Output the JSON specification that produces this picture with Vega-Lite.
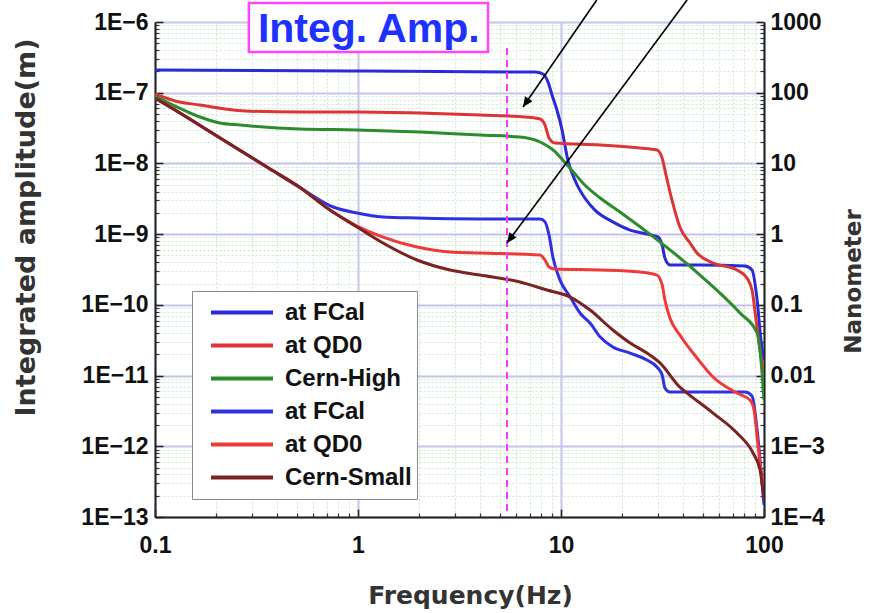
{
  "$schema": "https://vega.github.io/schema/vega-lite/v6.json",
  "width": 609,
  "height": 495,
  "autosize": {"type": "none"},
  "padding": {"left": 155, "top": 22, "right": 110, "bottom": 96},
  "background": "white",
  "config": {"view": {"stroke": null}, "font": "Liberation Sans"},
  "datasets": {
    "curves": [
      {"Series": "at FCal (Cern-High)", "Frequency": 0.1, "Amplitude": 2.09e-7},
      {"Series": "at FCal (Cern-High)", "Frequency": 0.913, "Amplitude": 2.03e-7},
      {"Series": "at FCal (Cern-High)", "Frequency": 7.45, "Amplitude": 1.96e-7},
      {"Series": "at FCal (Cern-High)", "Frequency": 8.15, "Amplitude": 1.84e-7},
      {"Series": "at FCal (Cern-High)", "Frequency": 8.63, "Amplitude": 1.42e-7},
      {"Series": "at FCal (Cern-High)", "Frequency": 9.03, "Amplitude": 9.29e-8},
      {"Series": "at FCal (Cern-High)", "Frequency": 9.55, "Amplitude": 5.69e-8},
      {"Series": "at FCal (Cern-High)", "Frequency": 10.12, "Amplitude": 2.97e-8},
      {"Series": "at FCal (Cern-High)", "Frequency": 10.8, "Amplitude": 1.12e-8},
      {"Series": "at FCal (Cern-High)", "Frequency": 11.7, "Amplitude": 5.83e-9},
      {"Series": "at FCal (Cern-High)", "Frequency": 13.1, "Amplitude": 3.24e-9},
      {"Series": "at FCal (Cern-High)", "Frequency": 14.7, "Amplitude": 2.19e-9},
      {"Series": "at FCal (Cern-High)", "Frequency": 18.0, "Amplitude": 1.49e-9},
      {"Series": "at FCal (Cern-High)", "Frequency": 21.9, "Amplitude": 1.14e-9},
      {"Series": "at FCal (Cern-High)", "Frequency": 26.5, "Amplitude": 1.0e-9},
      {"Series": "at FCal (Cern-High)", "Frequency": 30.1, "Amplitude": 9.1e-10},
      {"Series": "at FCal (Cern-High)", "Frequency": 31.5, "Amplitude": 7.02e-10},
      {"Series": "at FCal (Cern-High)", "Frequency": 32.5, "Amplitude": 4.59e-10},
      {"Series": "at FCal (Cern-High)", "Frequency": 34.4, "Amplitude": 3.66e-10},
      {"Series": "at FCal (Cern-High)", "Frequency": 48.4, "Amplitude": 3.66e-10},
      {"Series": "at FCal (Cern-High)", "Frequency": 80.5, "Amplitude": 3.54e-10},
      {"Series": "at FCal (Cern-High)", "Frequency": 87.3, "Amplitude": 3.11e-10},
      {"Series": "at FCal (Cern-High)", "Frequency": 92.5, "Amplitude": 1.17e-10},
      {"Series": "at FCal (Cern-High)", "Frequency": 96.6, "Amplitude": 3.18e-11},
      {"Series": "at FCal (Cern-High)", "Frequency": 100, "Amplitude": 1.66e-11},

      {"Series": "at QD0 (Cern-High)", "Frequency": 0.1, "Amplitude": 9.59e-8},
      {"Series": "at QD0 (Cern-High)", "Frequency": 0.1256, "Amplitude": 7.64e-8},
      {"Series": "at QD0 (Cern-High)", "Frequency": 0.1667, "Amplitude": 6.7e-8},
      {"Series": "at QD0 (Cern-High)", "Frequency": 0.2213, "Amplitude": 5.89e-8},
      {"Series": "at QD0 (Cern-High)", "Frequency": 0.2775, "Amplitude": 5.51e-8},
      {"Series": "at QD0 (Cern-High)", "Frequency": 0.5176, "Amplitude": 5.33e-8},
      {"Series": "at QD0 (Cern-High)", "Frequency": 0.989, "Amplitude": 5.33e-8},
      {"Series": "at QD0 (Cern-High)", "Frequency": 2.02, "Amplitude": 5.16e-8},
      {"Series": "at QD0 (Cern-High)", "Frequency": 3.99, "Amplitude": 4.84e-8},
      {"Series": "at QD0 (Cern-High)", "Frequency": 6.65, "Amplitude": 4.53e-8},
      {"Series": "at QD0 (Cern-High)", "Frequency": 7.89, "Amplitude": 4.25e-8},
      {"Series": "at QD0 (Cern-High)", "Frequency": 8.34, "Amplitude": 3.49e-8},
      {"Series": "at QD0 (Cern-High)", "Frequency": 8.73, "Amplitude": 2.29e-8},
      {"Series": "at QD0 (Cern-High)", "Frequency": 9.34, "Amplitude": 1.94e-8},
      {"Series": "at QD0 (Cern-High)", "Frequency": 15.6, "Amplitude": 1.82e-8},
      {"Series": "at QD0 (Cern-High)", "Frequency": 24.5, "Amplitude": 1.65e-8},
      {"Series": "at QD0 (Cern-High)", "Frequency": 29.7, "Amplitude": 1.55e-8},
      {"Series": "at QD0 (Cern-High)", "Frequency": 31.5, "Amplitude": 1.19e-8},
      {"Series": "at QD0 (Cern-High)", "Frequency": 32.9, "Amplitude": 6.86e-9},
      {"Series": "at QD0 (Cern-High)", "Frequency": 35.2, "Amplitude": 3.04e-9},
      {"Series": "at QD0 (Cern-High)", "Frequency": 38.5, "Amplitude": 1.26e-9},
      {"Series": "at QD0 (Cern-High)", "Frequency": 43.2, "Amplitude": 7.5e-10},
      {"Series": "at QD0 (Cern-High)", "Frequency": 46.8, "Amplitude": 5.41e-10},
      {"Series": "at QD0 (Cern-High)", "Frequency": 56.1, "Amplitude": 3.91e-10},
      {"Series": "at QD0 (Cern-High)", "Frequency": 73.6, "Amplitude": 3.11e-10},
      {"Series": "at QD0 (Cern-High)", "Frequency": 82.4, "Amplitude": 2.4e-10},
      {"Series": "at QD0 (Cern-High)", "Frequency": 87.3, "Amplitude": 1.62e-10},
      {"Series": "at QD0 (Cern-High)", "Frequency": 91.4, "Amplitude": 6.11e-11},
      {"Series": "at QD0 (Cern-High)", "Frequency": 95.6, "Amplitude": 2.3e-11},
      {"Series": "at QD0 (Cern-High)", "Frequency": 100, "Amplitude": 1.12e-11},

      {"Series": "Cern-High", "Frequency": 0.1, "Amplitude": 8.97e-8},
      {"Series": "Cern-High", "Frequency": 0.1256, "Amplitude": 6.48e-8},
      {"Series": "Cern-High", "Frequency": 0.1667, "Amplitude": 4.53e-8},
      {"Series": "Cern-High", "Frequency": 0.2089, "Amplitude": 3.73e-8},
      {"Series": "Cern-High", "Frequency": 0.2624, "Amplitude": 3.49e-8},
      {"Series": "Cern-High", "Frequency": 0.5176, "Amplitude": 3.07e-8},
      {"Series": "Cern-High", "Frequency": 0.989, "Amplitude": 2.97e-8},
      {"Series": "Cern-High", "Frequency": 2.02, "Amplitude": 2.78e-8},
      {"Series": "Cern-High", "Frequency": 3.99, "Amplitude": 2.52e-8},
      {"Series": "Cern-High", "Frequency": 6.28, "Amplitude": 2.36e-8},
      {"Series": "Cern-High", "Frequency": 7.89, "Amplitude": 2.01e-8},
      {"Series": "Cern-High", "Frequency": 9.14, "Amplitude": 1.55e-8},
      {"Series": "Cern-High", "Frequency": 10.2, "Amplitude": 1.12e-8},
      {"Series": "Cern-High", "Frequency": 11.5, "Amplitude": 7.57e-9},
      {"Series": "Cern-High", "Frequency": 13.1, "Amplitude": 4.95e-9},
      {"Series": "Cern-High", "Frequency": 15.6, "Amplitude": 3.24e-9},
      {"Series": "Cern-High", "Frequency": 19.5, "Amplitude": 2.06e-9},
      {"Series": "Cern-High", "Frequency": 27.4, "Amplitude": 1.0e-9},
      {"Series": "Cern-High", "Frequency": 48.4, "Amplitude": 2.64e-10},
      {"Series": "Cern-High", "Frequency": 76.2, "Amplitude": 7.67e-11},
      {"Series": "Cern-High", "Frequency": 92.5, "Amplitude": 4.0e-11},
      {"Series": "Cern-High", "Frequency": 96.6, "Amplitude": 1.66e-11},
      {"Series": "Cern-High", "Frequency": 100, "Amplitude": 4.51e-12},

      {"Series": "at FCal (Cern-Small)", "Frequency": 0.1, "Amplitude": 8.41e-8},
      {"Series": "at FCal (Cern-Small)", "Frequency": 0.1256, "Amplitude": 5.69e-8},
      {"Series": "at FCal (Cern-Small)", "Frequency": 0.1667, "Amplitude": 3.44e-8},
      {"Series": "at FCal (Cern-Small)", "Frequency": 0.2535, "Amplitude": 1.63e-8},
      {"Series": "at FCal (Cern-Small)", "Frequency": 0.369, "Amplitude": 8.34e-9},
      {"Series": "at FCal (Cern-Small)", "Frequency": 0.5176, "Amplitude": 4.57e-9},
      {"Series": "at FCal (Cern-Small)", "Frequency": 0.754, "Amplitude": 2.42e-9},
      {"Series": "at FCal (Cern-Small)", "Frequency": 0.989, "Amplitude": 1.99e-9},
      {"Series": "at FCal (Cern-Small)", "Frequency": 1.328, "Amplitude": 1.75e-9},
      {"Series": "at FCal (Cern-Small)", "Frequency": 1.953, "Amplitude": 1.69e-9},
      {"Series": "at FCal (Cern-Small)", "Frequency": 3.99, "Amplitude": 1.64e-9},
      {"Series": "at FCal (Cern-Small)", "Frequency": 7.89, "Amplitude": 1.64e-9},
      {"Series": "at FCal (Cern-Small)", "Frequency": 8.34, "Amplitude": 1.49e-9},
      {"Series": "at FCal (Cern-Small)", "Frequency": 8.73, "Amplitude": 9.73e-10},
      {"Series": "at FCal (Cern-Small)", "Frequency": 9.14, "Amplitude": 4.59e-10},
      {"Series": "at FCal (Cern-Small)", "Frequency": 9.89, "Amplitude": 2.24e-10},
      {"Series": "at FCal (Cern-Small)", "Frequency": 11.1, "Amplitude": 1.29e-10},
      {"Series": "at FCal (Cern-Small)", "Frequency": 12.4, "Amplitude": 7.67e-11},
      {"Series": "at FCal (Cern-Small)", "Frequency": 13.9, "Amplitude": 5.53e-11},
      {"Series": "at FCal (Cern-Small)", "Frequency": 15.6, "Amplitude": 3.51e-11},
      {"Series": "at FCal (Cern-Small)", "Frequency": 18.0, "Amplitude": 2.54e-11},
      {"Series": "at FCal (Cern-Small)", "Frequency": 21.9, "Amplitude": 2.08e-11},
      {"Series": "at FCal (Cern-Small)", "Frequency": 26.5, "Amplitude": 1.66e-11},
      {"Series": "at FCal (Cern-Small)", "Frequency": 29.7, "Amplitude": 1.32e-11},
      {"Series": "at FCal (Cern-Small)", "Frequency": 31.5, "Amplitude": 1.02e-11},
      {"Series": "at FCal (Cern-Small)", "Frequency": 32.5, "Amplitude": 6.67e-12},
      {"Series": "at FCal (Cern-Small)", "Frequency": 34.4, "Amplitude": 5.85e-12},
      {"Series": "at FCal (Cern-Small)", "Frequency": 80.5, "Amplitude": 5.85e-12},
      {"Series": "at FCal (Cern-Small)", "Frequency": 87.3, "Amplitude": 5.14e-12},
      {"Series": "at FCal (Cern-Small)", "Frequency": 92.5, "Amplitude": 1.7e-12},
      {"Series": "at FCal (Cern-Small)", "Frequency": 96.6, "Amplitude": 4.62e-13},
      {"Series": "at FCal (Cern-Small)", "Frequency": 100, "Amplitude": 1.48e-13},

      {"Series": "at QD0 (Cern-Small)", "Frequency": 0.1, "Amplitude": 8.41e-8},
      {"Series": "at QD0 (Cern-Small)", "Frequency": 0.1256, "Amplitude": 5.69e-8},
      {"Series": "at QD0 (Cern-Small)", "Frequency": 0.1667, "Amplitude": 3.44e-8},
      {"Series": "at QD0 (Cern-Small)", "Frequency": 0.2535, "Amplitude": 1.63e-8},
      {"Series": "at QD0 (Cern-Small)", "Frequency": 0.369, "Amplitude": 8.34e-9},
      {"Series": "at QD0 (Cern-Small)", "Frequency": 0.5176, "Amplitude": 4.57e-9},
      {"Series": "at QD0 (Cern-Small)", "Frequency": 0.728, "Amplitude": 2.19e-9},
      {"Series": "at QD0 (Cern-Small)", "Frequency": 0.989, "Amplitude": 1.3e-9},
      {"Series": "at QD0 (Cern-Small)", "Frequency": 1.328, "Amplitude": 9.1e-10},
      {"Series": "at QD0 (Cern-Small)", "Frequency": 1.953, "Amplitude": 6.58e-10},
      {"Series": "at QD0 (Cern-Small)", "Frequency": 2.84, "Amplitude": 5.59e-10},
      {"Series": "at QD0 (Cern-Small)", "Frequency": 3.99, "Amplitude": 5.41e-10},
      {"Series": "at QD0 (Cern-Small)", "Frequency": 7.89, "Amplitude": 5.07e-10},
      {"Series": "at QD0 (Cern-Small)", "Frequency": 8.34, "Amplitude": 4.31e-10},
      {"Series": "at QD0 (Cern-Small)", "Frequency": 8.73, "Amplitude": 3.43e-10},
      {"Series": "at QD0 (Cern-Small)", "Frequency": 9.34, "Amplitude": 3.21e-10},
      {"Series": "at QD0 (Cern-Small)", "Frequency": 15.6, "Amplitude": 3.11e-10},
      {"Series": "at QD0 (Cern-Small)", "Frequency": 24.5, "Amplitude": 2.91e-10},
      {"Series": "at QD0 (Cern-Small)", "Frequency": 29.7, "Amplitude": 2.64e-10},
      {"Series": "at QD0 (Cern-Small)", "Frequency": 31.5, "Amplitude": 1.91e-10},
      {"Series": "at QD0 (Cern-Small)", "Frequency": 32.5, "Amplitude": 1.17e-10},
      {"Series": "at QD0 (Cern-Small)", "Frequency": 34.4, "Amplitude": 6.52e-11},
      {"Series": "at QD0 (Cern-Small)", "Frequency": 38.5, "Amplitude": 3.74e-11},
      {"Series": "at QD0 (Cern-Small)", "Frequency": 46.8, "Amplitude": 1.77e-11},
      {"Series": "at QD0 (Cern-Small)", "Frequency": 56.1, "Amplitude": 9.53e-12},
      {"Series": "at QD0 (Cern-Small)", "Frequency": 73.6, "Amplitude": 5.66e-12},
      {"Series": "at QD0 (Cern-Small)", "Frequency": 85.3, "Amplitude": 4.51e-12},
      {"Series": "at QD0 (Cern-Small)", "Frequency": 89.3, "Amplitude": 3.26e-12},
      {"Series": "at QD0 (Cern-Small)", "Frequency": 92.5, "Amplitude": 1.35e-12},
      {"Series": "at QD0 (Cern-Small)", "Frequency": 95.6, "Amplitude": 5.79e-13},
      {"Series": "at QD0 (Cern-Small)", "Frequency": 100, "Amplitude": 2.4e-13},

      {"Series": "Cern-Small", "Frequency": 0.1, "Amplitude": 8.41e-8},
      {"Series": "Cern-Small", "Frequency": 0.1256, "Amplitude": 5.69e-8},
      {"Series": "Cern-Small", "Frequency": 0.1667, "Amplitude": 3.44e-8},
      {"Series": "Cern-Small", "Frequency": 0.2535, "Amplitude": 1.63e-8},
      {"Series": "Cern-Small", "Frequency": 0.369, "Amplitude": 8.34e-9},
      {"Series": "Cern-Small", "Frequency": 0.5176, "Amplitude": 4.57e-9},
      {"Series": "Cern-Small", "Frequency": 0.728, "Amplitude": 2.19e-9},
      {"Series": "Cern-Small", "Frequency": 0.989, "Amplitude": 1.26e-9},
      {"Series": "Cern-Small", "Frequency": 1.328, "Amplitude": 7.5e-10},
      {"Series": "Cern-Small", "Frequency": 1.953, "Amplitude": 4.31e-10},
      {"Series": "Cern-Small", "Frequency": 2.84, "Amplitude": 3.11e-10},
      {"Series": "Cern-Small", "Frequency": 3.99, "Amplitude": 2.64e-10},
      {"Series": "Cern-Small", "Frequency": 6.28, "Amplitude": 2.1e-10},
      {"Series": "Cern-Small", "Frequency": 8.53, "Amplitude": 1.62e-10},
      {"Series": "Cern-Small", "Frequency": 11.1, "Amplitude": 1.29e-10},
      {"Series": "Cern-Small", "Frequency": 13.9, "Amplitude": 8.45e-11},
      {"Series": "Cern-Small", "Frequency": 18.0, "Amplitude": 4.41e-11},
      {"Series": "Cern-Small", "Frequency": 21.9, "Amplitude": 2.89e-11},
      {"Series": "Cern-Small", "Frequency": 26.5, "Amplitude": 2.08e-11},
      {"Series": "Cern-Small", "Frequency": 30.8, "Amplitude": 1.5e-11},
      {"Series": "Cern-Small", "Frequency": 38.5, "Amplitude": 6.88e-12},
      {"Series": "Cern-Small", "Frequency": 41.8, "Amplitude": 5.66e-12},
      {"Series": "Cern-Small", "Frequency": 56.1, "Amplitude": 2.95e-12},
      {"Series": "Cern-Small", "Frequency": 73.6, "Amplitude": 1.54e-12},
      {"Series": "Cern-Small", "Frequency": 88.3, "Amplitude": 8.03e-13},
      {"Series": "Cern-Small", "Frequency": 95.6, "Amplitude": 4.62e-13},
      {"Series": "Cern-Small", "Frequency": 100, "Amplitude": 1.74e-13}
    ],
    "marker": [{"Frequency": 5.42, "Top": 4.29e-7, "Bottom": 1e-13}],
    "arrows": [
      {"Arrow": "upper", "FromF": 15.0, "FromA": 2.05e-6, "ToF": 6.5, "ToA": 6.28e-8},
      {"Arrow": "lower", "FromF": 41.8, "FromA": 2.05e-6, "ToF": 5.42, "ToA": 7.5e-10}
    ],
    "titlebox": [{"F1": 0.29, "F2": 4.37, "A1": 1.86e-6, "A2": 3.77e-7, "FC": 1.13, "AC": 5.21e-7, "Label": "Integ. Amp."}]
  },
  "resolve": {"axis": {"x": "independent", "y": "independent"}},
  "layer": [
    {
      "data": {"name": "curves"},
      "mark": {"type": "point", "opacity": 0},
      "encoding": {
        "x": {"field": "Frequency", "type": "quantitative",
          "scale": {"type": "log", "domain": [0.1, 100], "nice": false},
          "axis": {"orient": "bottom", "values": [0.2,0.3,0.4,0.5,0.6,0.7,0.8,0.9,2,3,4,5,6,7,8,9,20,30,40,50,60,70,80,90],
            "grid": true, "gridColor": "#cfe6cf", "gridWidth": 1, "gridDash": [2, 2], "labels": false, "ticks": true, "tickSize": -4, "tickColor": "#333", "tickWidth": 1.2, "domain": false, "title": null}},
        "y": {"field": "Amplitude", "type": "quantitative",
          "scale": {"type": "log", "domain": [1e-13, 1e-6], "nice": false},
          "axis": {"orient": "left", "values": [2e-13,3e-13,4e-13,5e-13,6e-13,7e-13,8e-13,9e-13,2e-12,3e-12,4e-12,5e-12,6e-12,7e-12,8e-12,9e-12,2e-11,3e-11,4e-11,5e-11,6e-11,7e-11,8e-11,9e-11,2e-10,3e-10,4e-10,5e-10,6e-10,7e-10,8e-10,9e-10,2e-9,3e-9,4e-9,5e-9,6e-9,7e-9,8e-9,9e-9,2e-8,3e-8,4e-8,5e-8,6e-8,7e-8,8e-8,9e-8,2e-7,3e-7,4e-7,5e-7,6e-7,7e-7,8e-7,9e-7],
            "grid": true, "gridColor": "#cfe6cf", "gridWidth": 1, "gridDash": [2, 2], "labels": false, "ticks": true, "tickSize": -4, "tickColor": "#333", "tickWidth": 1.2, "domain": false, "title": null}}
      }
    },
    {
      "data": {"name": "curves"},
      "mark": {"type": "point", "opacity": 0},
      "encoding": {
        "x": {"field": "Frequency", "type": "quantitative",
          "axis": {"orient": "bottom", "values": [0.1, 1, 10, 100], "grid": false, "labels": false, "ticks": true, "tickSize": -8, "tickColor": "#222", "tickWidth": 1.5, "domain": false, "title": null}},
        "y": {"field": "Amplitude", "type": "quantitative",
          "axis": {"orient": "right", "values": [2e-13,3e-13,4e-13,5e-13,6e-13,7e-13,8e-13,9e-13,2e-12,3e-12,4e-12,5e-12,6e-12,7e-12,8e-12,9e-12,2e-11,3e-11,4e-11,5e-11,6e-11,7e-11,8e-11,9e-11,2e-10,3e-10,4e-10,5e-10,6e-10,7e-10,8e-10,9e-10,2e-9,3e-9,4e-9,5e-9,6e-9,7e-9,8e-9,9e-9,2e-8,3e-8,4e-8,5e-8,6e-8,7e-8,8e-8,9e-8,2e-7,3e-7,4e-7,5e-7,6e-7,7e-7,8e-7,9e-7],
            "grid": false, "labels": false, "ticks": true, "tickSize": -4, "tickColor": "#333", "tickWidth": 1.2, "domain": false, "title": null}}
      }
    },
    {
      "data": {"name": "curves"},
      "mark": {"type": "point", "opacity": 0},
      "encoding": {
        "x": {"field": "Frequency", "type": "quantitative", "axis": null},
        "y": {"field": "Amplitude", "type": "quantitative",
          "axis": {"orient": "left", "values": [1e-13,1e-12,1e-11,1e-10,1e-9,1e-8,1e-7,1e-6], "grid": false, "labels": false, "ticks": true, "tickSize": -8, "tickColor": "#222", "tickWidth": 1.5, "domain": false, "title": null}}
      }
    },
    {
      "data": {"name": "curves"},
      "mark": {"type": "line", "strokeWidth": 3, "interpolate": "monotone", "clip": true},
      "encoding": {
        "x": {"field": "Frequency", "type": "quantitative",
          "axis": {"orient": "bottom", "values": [0.1, 1, 10, 100], "grid": true, "gridColor": "#c4c4ec", "gridWidth": 2,
            "ticks": false, "domain": true, "domainColor": "#222", "domainWidth": 2,
            "labelExpr": "format(datum.value, '')", "labelFont": "Liberation Sans", "labelFontSize": 23, "labelFontWeight": "bold", "labelColor": "#111", "labelPadding": 17, "labelFlush": false,
            "title": "Frequency(Hz)", "titleFont": "DejaVu Sans", "titleFontSize": 25, "titleFontWeight": "bold", "titleColor": "#333",
            "titleBaseline": "alphabetic", "titleX": 315, "titleY": 86, "titleAlign": "center"}},
        "y": {"field": "Amplitude", "type": "quantitative",
          "axis": {"orient": "left", "values": [1e-13,1e-12,1e-11,1e-10,1e-9,1e-8,1e-7,1e-6], "grid": true, "gridColor": "#c4c4ec", "gridWidth": 2,
            "ticks": false, "domain": true, "domainColor": "#222", "domainWidth": 2,
            "labelExpr": "'1E\u2212' + round(-log(datum.value) / LN10)", "labelFont": "Liberation Sans", "labelFontSize": 23, "labelFontWeight": "bold", "labelColor": "#111", "labelPadding": 7, "labelFlush": false,
            "title": "Integrated amplitude(m)", "titleFont": "DejaVu Sans", "titleFontSize": 27, "titleFontWeight": "bold", "titleColor": "#333",
            "titleAngle": 270, "titleBaseline": "alphabetic", "titleX": -121, "titleY": 205, "titleAlign": "center"}},
        "color": {"field": "Series", "type": "nominal",
          "scale": {"domain": ["at FCal (Cern-High)", "at QD0 (Cern-High)", "Cern-High", "at FCal (Cern-Small)", "at QD0 (Cern-Small)", "Cern-Small"],
            "range": ["#2a2ad8", "#dd3535", "#2c8c2c", "#2f30e2", "#f03a3a", "#7b2222"]},
          "legend": {"orient": "none", "legendX": 37, "legendY": 269, "title": null,
            "symbolType": "stroke", "symbolStrokeWidth": 4, "symbolSize": 3844, "clipHeight": 33, "rowPadding": 0,
            "padding": 5, "symbolOffset": 12, "labelOffset": 10,
            "labelFont": "Liberation Sans", "labelFontSize": 24, "labelFontWeight": "bold", "labelColor": "#111", "labelLimit": 300,
            "labelExpr": "split(datum.label, ' (')[0]",
            "fillColor": "white", "strokeColor": "#8a8a8a"}}
      }
    },
    {
      "data": {"name": "curves"},
      "mark": {"type": "point", "opacity": 0},
      "encoding": {
        "x": {"field": "Frequency", "type": "quantitative", "axis": null},
        "y": {"field": "Amplitude", "type": "quantitative",
          "axis": {"orient": "right", "values": [1e-13,1e-12,1e-11,1e-10,1e-9,1e-8,1e-7,1e-6], "grid": false,
            "ticks": true, "tickSize": -8, "tickColor": "#222", "tickWidth": 1.5, "domain": true, "domainColor": "#222", "domainWidth": 2,
            "labelExpr": "(round(log(datum.value) / LN10) + 9) >= -2 ? format(pow(10, round(log(datum.value) / LN10) + 9), '') : '1E\u2212' + (-(round(log(datum.value) / LN10) + 9))",
            "labelFont": "Liberation Sans", "labelFontSize": 23, "labelFontWeight": "bold", "labelColor": "#111", "labelPadding": 14, "labelFlush": false,
            "title": "Nanometer", "titleFont": "DejaVu Sans", "titleFontSize": 23, "titleFontWeight": "bold", "titleColor": "#333",
            "titleAngle": 270, "titleBaseline": "alphabetic", "titleX": 96, "titleY": 259, "titleAlign": "center"}}
      }
    },
    {
      "data": {"name": "marker"},
      "mark": {"type": "rule", "color": "#ff33ff", "strokeWidth": 2, "strokeDash": [7, 5]},
      "encoding": {
        "x": {"field": "Frequency", "type": "quantitative", "axis": null},
        "y": {"field": "Top", "type": "quantitative", "axis": null},
        "y2": {"field": "Bottom"}
      }
    },
    {
      "data": {"name": "arrows"},
      "mark": {"type": "rule", "color": "black", "strokeWidth": 1.6},
      "encoding": {
        "x": {"field": "FromF", "type": "quantitative", "axis": null},
        "y": {"field": "FromA", "type": "quantitative", "axis": null},
        "x2": {"field": "ToF"},
        "y2": {"field": "ToA"}
      }
    },
    {
      "data": {"name": "arrows"},
      "transform": [{"filter": "datum.Arrow === 'upper'"}],
      "mark": {"type": "point", "shape": "M0,0L-0.45,1L0.45,1Z", "filled": true, "color": "black", "opacity": 1, "size": 400, "angle": 214.7, "strokeWidth": 0},
      "encoding": {
        "x": {"field": "ToF", "type": "quantitative", "axis": null},
        "y": {"field": "ToA", "type": "quantitative", "axis": null}
      }
    },
    {
      "data": {"name": "arrows"},
      "transform": [{"filter": "datum.Arrow === 'lower'"}],
      "mark": {"type": "point", "shape": "M0,0L-0.45,1L0.45,1Z", "filled": true, "color": "black", "opacity": 1, "size": 400, "angle": 216.4, "strokeWidth": 0},
      "encoding": {
        "x": {"field": "ToF", "type": "quantitative", "axis": null},
        "y": {"field": "ToA", "type": "quantitative", "axis": null}
      }
    },
    {
      "data": {"name": "titlebox"},
      "mark": {"type": "rect", "fill": "white", "stroke": "#ff44ff", "strokeWidth": 2.5},
      "encoding": {
        "x": {"field": "F1", "type": "quantitative", "axis": null},
        "x2": {"field": "F2"},
        "y": {"field": "A1", "type": "quantitative", "axis": null},
        "y2": {"field": "A2"}
      }
    },
    {
      "data": {"name": "titlebox"},
      "mark": {"type": "text", "font": "Liberation Sans", "fontSize": 41, "fontWeight": "bold", "color": "#1e32ff", "align": "center", "baseline": "alphabetic"},
      "encoding": {
        "x": {"field": "FC", "type": "quantitative", "axis": null},
        "y": {"field": "AC", "type": "quantitative", "axis": null},
        "text": {"field": "Label"}
      }
    }
  ]
}
